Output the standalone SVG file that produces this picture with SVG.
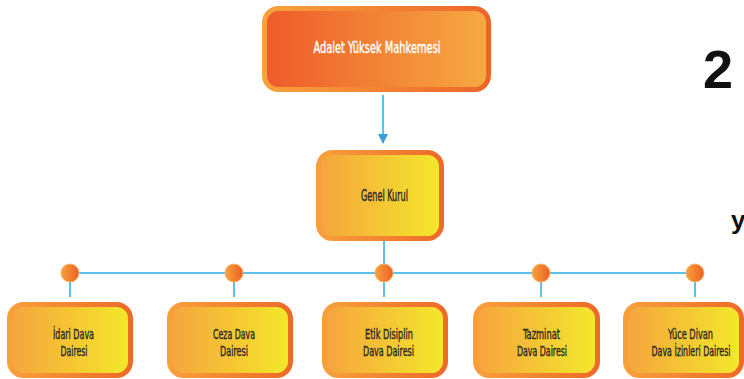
<svg xmlns="http://www.w3.org/2000/svg" width="744" height="379" viewBox="0 0 744 379">
<defs>
<linearGradient id="gTopFill" x1="0" y1="0" x2="1" y2="0">
<stop offset="0" stop-color="#EE5A2A"/><stop offset="1" stop-color="#F6AA42"/>
</linearGradient>
<linearGradient id="gTopStroke" x1="0" y1="0" x2="1" y2="0">
<stop offset="0" stop-color="#F7A23B"/><stop offset="1" stop-color="#EE652A"/>
</linearGradient>
<linearGradient id="gFill" x1="0" y1="0" x2="1" y2="0">
<stop offset="0" stop-color="#F6A33D"/><stop offset="1" stop-color="#F3E92A"/>
</linearGradient>
<linearGradient id="gStroke" x1="0" y1="0" x2="1" y2="0">
<stop offset="0" stop-color="#F7A03A"/><stop offset="1" stop-color="#EE6A2A"/>
</linearGradient>
<linearGradient id="gDot" x1="0" y1="0" x2="1" y2="0">
<stop offset="0" stop-color="#F7A23B"/><stop offset="1" stop-color="#EE5F26"/>
</linearGradient>
<marker id="arr" viewBox="0 0 10 10" refX="9" refY="5" markerWidth="10" markerHeight="10" markerUnits="userSpaceOnUse" orient="auto">
<path d="M0,0 L10,5 L0,10 Z" fill="#3A9FD6"/>
</marker>
</defs>
<style>
.box{fill:url(#gFill);stroke:url(#gStroke);stroke-width:5}
.top{fill:url(#gTopFill);stroke:url(#gTopStroke);stroke-width:5}
.ln{stroke:#5CC2EC;stroke-width:2;fill:none}
.dot{fill:url(#gDot);stroke:#F8B060;stroke-width:1}
.t{font-family:"DejaVu Sans Condensed","Liberation Sans Narrow","Liberation Sans",sans-serif;font-weight:normal;text-anchor:middle;fill:#2E2A25;stroke:#2E2A25;stroke-width:0.4}
.tw{fill:#FFFFFF;stroke:#FFFFFF}
.big{font-family:"Liberation Sans",Arial,sans-serif;font-weight:bold;fill:#111111}
</style>
<rect width="744" height="379" fill="#FFFFFF"/>
<g id="connectors">
<line class="ln" x1="383" y1="95" x2="383" y2="143" stroke="#3A9FD6" marker-end="url(#arr)"/>
<line class="ln" x1="384" y1="240" x2="384" y2="297"/>
<line class="ln" x1="70" y1="273" x2="695" y2="273"/>
<line class="ln" x1="70" y1="273" x2="70" y2="297"/>
<line class="ln" x1="234" y1="273" x2="234" y2="297"/>
<line class="ln" x1="541" y1="273" x2="541" y2="297"/>
<line class="ln" x1="695" y1="273" x2="695" y2="297"/>
<circle class="dot" cx="70" cy="273" r="9"/>
<circle class="dot" cx="234" cy="273" r="9"/>
<circle class="dot" cx="384" cy="273" r="9"/>
<circle class="dot" cx="541" cy="273" r="9"/>
<circle class="dot" cx="695" cy="273" r="9"/>
</g>
<g id="adalet-yuksek-mahkemesi">
<rect class="top" x="264.5" y="8.5" width="224" height="81" rx="14"/>
<text class="t tw" x="377" y="53" font-size="16" textLength="127" lengthAdjust="spacingAndGlyphs">Adalet Yüksek Mahkemesi</text>
</g>
<g id="genel-kurul">
<rect class="box" x="318.5" y="152.5" width="123" height="86" rx="14"/>
<text class="t" x="384.5" y="200.5" font-size="15" textLength="47" lengthAdjust="spacingAndGlyphs">Genel Kurul</text>
</g>
<g id="idari-dava-dairesi">
<rect class="box" x="9.5" y="304.5" width="121" height="71" rx="14"/>
<text class="t" x="73.5" y="339" font-size="14" textLength="41" lengthAdjust="spacingAndGlyphs">İdari Dava</text>
<text class="t" x="74" y="356" font-size="14" textLength="27" lengthAdjust="spacingAndGlyphs">Dairesi</text>
</g>
<g id="ceza-dava-dairesi">
<rect class="box" x="169.5" y="304.5" width="121" height="71" rx="14"/>
<text class="t" x="234" y="339" font-size="14" textLength="42" lengthAdjust="spacingAndGlyphs">Ceza Dava</text>
<text class="t" x="234" y="356" font-size="14" textLength="28" lengthAdjust="spacingAndGlyphs">Dairesi</text>
</g>
<g id="etik-disiplin-dava-dairesi">
<rect class="box" x="324.5" y="304.5" width="121" height="71" rx="14"/>
<text class="t" x="389" y="339" font-size="14" textLength="48" lengthAdjust="spacingAndGlyphs">Etik Disiplin</text>
<text class="t" x="388.5" y="356" font-size="14" textLength="51" lengthAdjust="spacingAndGlyphs">Dava Dairesi</text>
</g>
<g id="tazminat-dava-dairesi">
<rect class="box" x="475.5" y="304.5" width="122" height="71" rx="14"/>
<text class="t" x="541.5" y="339" font-size="14" textLength="37" lengthAdjust="spacingAndGlyphs">Tazminat</text>
<text class="t" x="542" y="356" font-size="14" textLength="50" lengthAdjust="spacingAndGlyphs">Dava Dairesi</text>
</g>
<g id="yuce-divan-dava-izinleri-dairesi">
<rect class="box" x="625.5" y="304.5" width="116" height="71" rx="14"/>
<text class="t" x="690.5" y="339" font-size="14" textLength="45" lengthAdjust="spacingAndGlyphs">Yüce Divan</text>
<text class="t" x="691" y="356" font-size="14" textLength="79" lengthAdjust="spacingAndGlyphs">Dava İzinleri Dairesi</text>
</g>
<text class="big" x="703" y="88" font-size="54">2</text>
<text class="big" x="731" y="229" font-size="26" fill="#222222">y</text>
</svg>
